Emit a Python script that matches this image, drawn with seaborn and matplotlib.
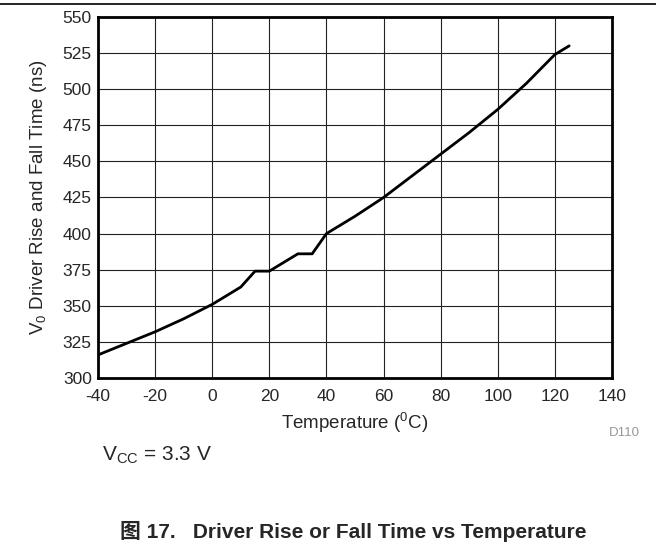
import matplotlib
matplotlib.use('Agg')
import matplotlib.pyplot as plt
import seaborn as sns
import pandas as pd
from matplotlib.lines import Line2D

# values
temperature = [-40, -30, -20, -10, 0, 10, 15, 20, 30, 35, 40, 50, 60, 70, 80, 90, 100, 110, 120, 125]
rise_fall_ns = [316, 324, 332, 341, 351, 363, 374, 374, 386, 386, 400, 412, 425, 440, 455, 470, 486, 504, 524, 530]

x_ticks = [-40, -20, 0, 20, 40, 60, 80, 100, 120, 140]
y_ticks = [300, 325, 350, 375, 400, 425, 450, 475, 500, 525, 550]

df = pd.DataFrame({'temp': temperature, 'time': rise_fall_ns})

sns.set_style("white")
plt.rcParams['font.family'] = ['Liberation Sans', 'Noto Sans CJK SC', 'DejaVu Sans']
plt.rcParams['mathtext.fontset'] = 'custom'
plt.rcParams['mathtext.rm'] = 'Liberation Sans'
plt.rcParams['mathtext.it'] = 'Liberation Sans'
plt.rcParams['axes.unicode_minus'] = False

fig = plt.figure(figsize=(6.56, 5.48), dpi=100)
ax = fig.add_axes([0.1494, 0.3102, 0.7835, 0.6588])

sns.lineplot(data=df, x='temp', y='time', ax=ax, color='black', linewidth=2.0)

ax.set_xlim(-40, 140)
ax.set_ylim(300, 550)
ax.set_xticks(x_ticks)
ax.set_yticks(y_ticks)
ax.tick_params(length=0, labelsize=12.5)
ax.tick_params(axis='x', pad=8)
ax.tick_params(axis='y', pad=4.5)
ax.grid(True, color='#222222', linewidth=0.8)
for s in ax.spines.values():
    s.set_visible(True)
    s.set_color('black')
    s.set_linewidth(2)

ax.set_xlabel('Temperature ($\\mathregular{^0}$C)', fontsize=13.5, labelpad=5)
ax.set_ylabel('V$\\mathregular{_0}$ Driver Rise and Fall Time (ns)', fontsize=13.5, labelpad=10)

fig.text(0.928, 0.2047, 'D110', fontsize=9.6, color='#999999', ha='left', va='baseline')
fig.text(0.155, 0.1588, 'V$\\mathregular{_{CC}}$ = 3.3 V', fontsize=15, ha='left', va='baseline')
fig.text(0.183, 0.0182, '图 17.   Driver Rise or Fall Time vs Temperature', fontsize=15,
         fontweight='bold', ha='left', va='baseline')

# thin rule along the top of the page
fig.add_artist(Line2D([0, 1], [0.992, 0.992], color='black', linewidth=1.2, transform=fig.transFigure))

fig.savefig('out.png', dpi=100)
